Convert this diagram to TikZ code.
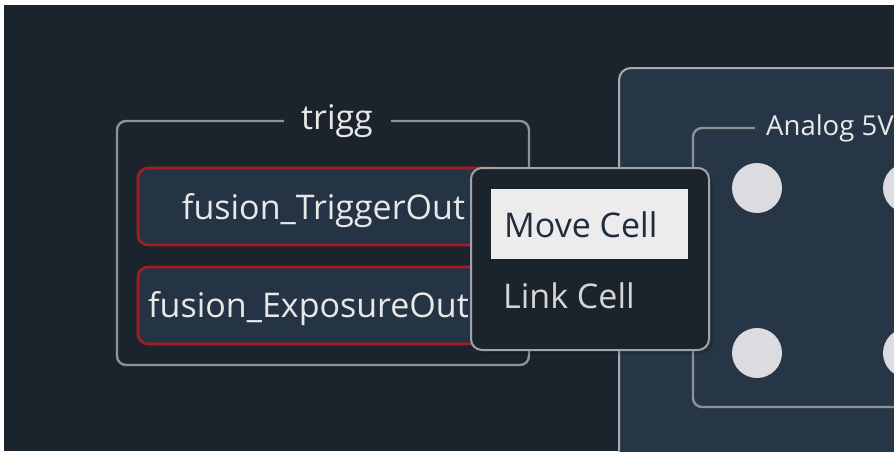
\documentclass[tikz,border=0pt]{standalone}
\usepackage{fontspec}
\setmainfont{Open Sans}
\definecolor{bgdark}{RGB}{27,36,44}
\definecolor{panelfill}{RGB}{38,54,70}
\definecolor{cellfill}{RGB}{37,52,68}
\definecolor{grpline}{RGB}{142,146,150}
\definecolor{panelline}{RGB}{168,172,176}
\definecolor{cellred}{RGB}{165,28,34}
\definecolor{menufill}{RGB}{27,35,43}
\definecolor{menuline}{RGB}{160,164,168}
\definecolor{hilite}{RGB}{236,236,236}
\definecolor{hilitetext}{RGB}{30,44,60}
\definecolor{lighttext}{RGB}{232,232,232}
\definecolor{menutext}{RGB}{214,214,214}
\definecolor{dotfill}{RGB}{220,219,224}
\tikzset{
  groupbox/.style={draw=grpline, line width=2.4pt, rounded corners=9pt},
  cellbox/.style={draw=cellred, fill=cellfill, line width=2.6pt, rounded corners=10pt},
  celltext/.style={text=lighttext, font=\fontsize{34}{39}\selectfont, anchor=base, inner sep=0pt},
  grouptitle/.style={text=lighttext, inner sep=0pt},
  menutxt/.style={font=\fontsize{34}{39}\selectfont, anchor=base west, inner sep=0pt},
  dot/.style={circle, fill=dotfill, minimum size=50pt, inner sep=0pt}
}
\begin{document}
\begin{tikzpicture}[x=1pt,y=-1pt]
\useasboundingbox (0,0) rectangle (894,455);
\fill[white] (0,0) rectangle (894,455);
\begin{scope}
\clip (4,5) rectangle (894,451);
\fill[bgdark] (4,5) rectangle (894,451);
% right panel
\draw[fill=panelfill, draw=panelline, line width=2pt, rounded corners=12pt] (619,68) rectangle (960,520);
% Analog group
\draw[groupbox] (693,128) rectangle (960,407);
\node[grouptitle, fill=panelfill, anchor=west, inner xsep=11pt, inner ysep=2pt, font=\fontsize{27.5}{32}\selectfont] (analog) at (755,128) {Analog 5V};
\node[dot] (d1) at (757,188) {};
\node[dot] (d2) at (757,353) {};
\node[dot] (d3) at (908,188) {};
\node[dot] (d4) at (908,353) {};
% trigg group
\draw[groupbox] (117,121) rectangle (529,365);
\node[grouptitle, fill=bgdark, minimum width=107pt, minimum height=30pt, font=\fontsize{34}{39}\selectfont] (trigg) at (337,121) {trigg};
% cells
\draw[cellbox] (138,168) rectangle (509,245);
\draw[cellbox] (138,267) rectangle (509,344);
\node[celltext] (tout) at (323.5,219) {fusion\_TriggerOut};
\node[celltext] (eout) at (308.5,317) {fusion\_ExposureOut};
% popup menu
\fill[black, opacity=0.14, rounded corners=12pt] (474,171) rectangle (713,354);
\draw[fill=menufill, draw=menuline, line width=2pt, rounded corners=11pt] (471,168) rectangle (709,350);
\fill[hilite] (491,189) rectangle (688,259);
\node[menutxt, text=hilitetext] (move) at (504,237) {Move Cell};
\node[menutxt, text=menutext] (link) at (503,308) {Link Cell};
\end{scope}
\end{tikzpicture}
\end{document}
